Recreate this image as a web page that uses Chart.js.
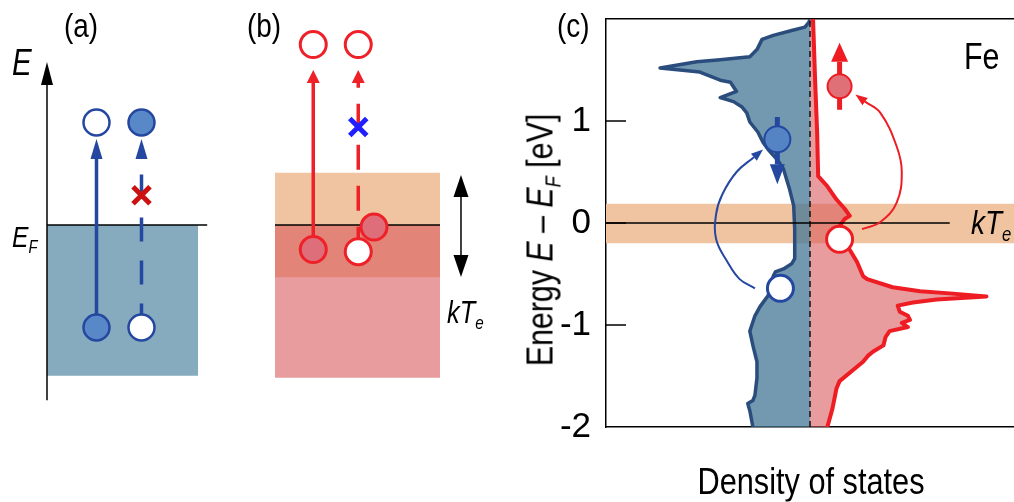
<!DOCTYPE html>
<html>
<head>
<meta charset="utf-8">
<script src="https://cdn.jsdelivr.net/npm/chart.js@4.4.1/dist/chart.umd.min.js"></script>
<style>
  body { margin: 0; background: #fff; }
  #figure { position: relative; width: 1014px; height: 502px; overflow: hidden;
    font-family: 'Liberation Sans', Arial, sans-serif; color: #000; }
  canvas { position: absolute; top: 0; }
  /* the original uses a condensed sans, so squeeze the text a little */
  .lbl { position: absolute; line-height: 1; white-space: nowrap;
    transform-origin: 0 50%; transform: translateY(-50%) scaleX(0.82); }
  .lbl sub { font-size: 0.6em; vertical-align: -0.35em; line-height: 0; }
  #ytitle { transform-origin: 50% 50%; transform: translate(-50%, -50%) rotate(-90deg) scaleX(0.82); }
  #xtitle { transform-origin: 50% 50%; transform: translate(-50%, -50%) scaleX(0.83); }
</style>
</head>
<body>
<div id="figure">
  <canvas id="panelA" width="240" height="502" style="left:0"></canvas>
  <canvas id="panelB" width="270" height="502" style="left:240px"></canvas>
  <canvas id="panelC" width="504" height="502" style="left:510px"></canvas>

  <div class="lbl" style="left:64px;top:25px;font-size:34px">(a)</div>
  <div class="lbl" style="left:247px;top:25px;font-size:34px">(b)</div>
  <div class="lbl" style="left:557px;top:25px;font-size:34px">(c)</div>
  <div class="lbl" style="left:12px;top:63px;font-size:36px"><i>E</i></div>
  <div class="lbl" style="left:12px;top:237px;font-size:30px"><i>E</i><sub><i>F</i></sub></div>
  <div class="lbl" style="left:447px;top:312px;font-size:31px"><i>kT</i><sub><i>e</i></sub></div>
  <div class="lbl" style="left:964px;top:56px;font-size:37px">Fe</div>
  <div class="lbl" style="left:971px;top:222px;font-size:34px"><i>kT</i><sub><i>e</i></sub></div>
  <div class="lbl" id="ytitle" style="left:540px;top:240px;font-size:37px">Energy <i>E</i> – <i>E</i><sub><i>F</i></sub> [eV]</div>
  <div class="lbl" id="xtitle" style="left:811px;top:481px;font-size:37px">Density of states</div>
</div>
<script>
// ---- panel (c): spin resolved DOS of Fe ----
// spin down, drawn to the left of zero
const dosDownE = [-2.00, -1.84, -1.77, -1.74, -1.69, -1.52, -1.36, -1.20, -1.06, -1.00, -0.91, -0.82, -0.71, -0.52, -0.48, -0.45, -0.40, -0.35, -0.06, 0.17, 0.33, 0.43, 0.53, 0.62, 0.72, 0.79, 0.89, 0.99, 1.08, 1.14, 1.19, 1.23, 1.29, 1.38, 1.40, 1.48, 1.52, 1.58, 1.60, 1.63, 1.70, 1.80, 1.84, 1.89, 1.92, 1.97, 2.00];
const dosDown = [-0.56, -0.59, -0.61, -0.56, -0.54, -0.52, -0.52, -0.56, -0.59, -0.57, -0.54, -0.49, -0.41, -0.36, -0.34, -0.26, -0.18, -0.15, -0.15, -0.16, -0.20, -0.23, -0.26, -0.32, -0.41, -0.46, -0.51, -0.59, -0.62, -0.67, -0.75, -0.88, -0.72, -0.78, -0.88, -1.08, -1.47, -1.11, -0.88, -0.59, -0.52, -0.47, -0.36, -0.17, -0.05, -0.01, 0];
// spin up, drawn to the right of zero
const dosUpE = [-2.00, -1.82, -1.62, -1.55, -1.36, -1.30, -1.26, -1.20, -1.12, -1.06, -1.02, -0.98, -0.95, -0.91, -0.87, -0.81, -0.78, -0.75, -0.72, -0.69, -0.67, -0.63, -0.55, -0.52, -0.38, -0.23, -0.03, 0.04, 0.07, 0.14, 0.23, 0.36, 0.46, 0.89, 1.40, 2.00];
const dosUp = [0.17, 0.22, 0.26, 0.29, 0.52, 0.57, 0.62, 0.72, 0.74, 0.78, 0.96, 0.90, 0.98, 0.96, 0.88, 0.86, 1.01, 1.24, 1.73, 1.37, 1.08, 0.81, 0.56, 0.52, 0.46, 0.37, 0.29, 0.34, 0.39, 0.34, 0.26, 0.17, 0.08, 0.07, 0.05, 0.03];
const energyTicks = [-2, -1, 0, 1, 2];
const kTeBand = [-0.2, 0.19];
const zeroLineEnd = 1.37;
// electrons / holes in (c): [dos, energy]
const spinDownElectron = [-0.32, 0.82];
const spinUpElectron = [0.29, 1.34];
const spinUpHole = [0.29, -0.16];
const spinDownHole = [-0.29, -0.64];
const spinDownArrowE = [1.04, 0.576];
const spinUpArrowE = [1.11, 1.58];
// excitation paths in (c)
const pathDownX = [-0.54, -0.69, -0.81, -0.92, -0.92, -0.86, -0.72, -0.55];
const pathDownE = [-0.64, -0.55, -0.38, -0.16, 0.09, 0.28, 0.50, 0.645];
const pathUpX = [0.51, 0.69, 0.85, 0.90, 0.85, 0.69, 0.54];
const pathUpE = [-0.06, 0.01, 0.20, 0.50, 0.75, 1.08, 1.19];

// ---- panel (a): schematic, energy in the same units ----
const columnsA = [1.1, 2.1];      // allowed (solid) / blocked (dashed) transition
const levelsA = [1, -1];          // final / initial level
const arrowTopA = 0.644;
const crossA = 0.29;
const bandA = [3.36, -1.47];      // right edge, bottom of occupied band
const fermiEndA = 3.56;
const energyAxisA = [-1.71, 1.366];

// ---- panel (b) ----
const columnsB = [0.85, 1.85];
const upperB = 1.76;
const lowerB = [-0.24, -0.26];
const excitedB = [2.2, -0.02];
const arrowTopB = 1.385;
const crossB = 0.956;
const widthB = 3.667;
const smearB = [-0.51, 0.51];
const occupiedBottomB = -1.49;
const kTeArrowB = [4.133, -0.293, 0.273];

Chart.defaults.font.family = "'Liberation Sans', Arial, sans-serif";
Chart.defaults.color = '#000';

const pts = (xs, ys) => xs.map((x, i) => ({x: x, y: ys[i]}));

// draws a filled arrow head beyond the last (and optionally first) point
const arrowHeads = {
  id: 'arrowHeads',
  afterDatasetDraw(chart, args) {
    const ds = chart.data.datasets[args.index];
    const head = ds.arrowHead;
    if (!head) return;
    const p = args.meta.data;
    const ctx = chart.ctx;
    const draw = (end, from) => {
      const a = Math.atan2(end.y - from.y, end.x - from.x);
      ctx.save();
      ctx.translate(end.x, end.y);
      ctx.rotate(a);
      ctx.beginPath();
      ctx.moveTo(head.length, 0);
      ctx.lineTo(0, head.width / 2);
      ctx.lineTo(0, -head.width / 2);
      ctx.closePath();
      ctx.fillStyle = ds.borderColor;
      ctx.fill();
      ctx.restore();
    };
    const last = p[p.length - 1];
    draw(last, ds.tension ? {x: last.cp1x, y: last.cp1y} : p[p.length - 2]);
    if (head.both) draw(p[0], p[1]);
  }
};

// short tick marks drawn inside the frame
const innerTicks = {
  id: 'innerTicks',
  afterDatasetsDraw(chart) {
    const y = chart.scales.y, area = chart.chartArea, ctx = chart.ctx;
    ctx.save();
    ctx.strokeStyle = '#000';
    ctx.lineWidth = 1.5;
    y.ticks.forEach(t => {
      if (t.value <= y.min || t.value >= y.max) return;
      const py = y.getPixelForValue(t.value);
      ctx.beginPath();
      ctx.moveTo(area.left, py);
      ctx.lineTo(area.left + 20, py);
      ctx.stroke();
    });
    ctx.restore();
  }
};

function seg(data, color, width, extra) {
  return Object.assign({type: 'line', data: data, borderColor: color, borderWidth: width,
    pointRadius: 0, fill: false, clip: false}, extra);
}
function dots(data, fill, stroke, r, bw, extra) {
  return Object.assign({type: 'line', data: data, showLine: false, pointRadius: r,
    pointBackgroundColor: fill, pointBorderColor: stroke, pointBorderWidth: bw, clip: false, order: 0}, extra);
}
const baseOptions = {
  responsive: false, animation: false, events: [],
  plugins: {legend: {display: false}, tooltip: {enabled: false}}
};
function schematicOptions(xmin, xmax) {
  return Object.assign({}, baseOptions, {
    layout: {padding: 0, autoPadding: false},
    scales: {
      x: {type: 'linear', display: false, min: xmin, max: xmax},
      y: {type: 'linear', display: false, min: -2.702, max: 2.195}
    }
  });
}

// ---------- (a) ----------
const blueA = '#2447a0';
new Chart(document.getElementById('panelA'), {
  type: 'line',
  data: {datasets: [
    dots([{x: columnsA[1], y: levelsA[0]}, {x: columnsA[0], y: levelsA[1]}], '#5888c8', blueA, 13, 2.5),
    dots([{x: columnsA[0], y: levelsA[0]}, {x: columnsA[1], y: levelsA[1]}], '#ffffff', blueA, 13, 2.5),
    dots([{x: columnsA[1], y: crossA}], '#cc1111', '#cc1111', 12, 5, {pointStyle: 'crossRot', order: 1}),
    seg([{x: columnsA[0], y: levelsA[1]}, {x: columnsA[0], y: arrowTopA}], blueA, 3.5,
      {order: 2, arrowHead: {length: 20, width: 12}}),
    seg([{x: columnsA[1], y: levelsA[1]}, {x: columnsA[1], y: arrowTopA}], blueA, 3.5,
      {order: 2, borderDash: [24, 19], arrowHead: {length: 20, width: 12}}),
    seg([{x: 0, y: energyAxisA[0]}, {x: 0, y: energyAxisA[1]}], '#000', 1.5,
      {order: 3, arrowHead: {length: 23, width: 12}}),
    seg([{x: 0, y: 0}, {x: fermiEndA, y: 0}], '#000', 1.5, {order: 4}),
    seg([{x: 0, y: 0}, {x: bandA[0], y: 0}], 'rgba(0,0,0,0)', 0,
      {order: 5, fill: {value: bandA[1]}, backgroundColor: '#86abbf'})
  ]},
  options: schematicOptions(-1.0444, 4.2889),
  plugins: [arrowHeads]
});

// ---------- (b) ----------
const redB = '#ee2028';
new Chart(document.getElementById('panelB'), {
  type: 'line',
  data: {datasets: [
    dots([{x: excitedB[0], y: excitedB[1]}], '#de6f7a', redB, 13, 3),
    dots([{x: columnsB[0], y: lowerB[0]}], '#de6f7a', redB, 13, 3, {order: 0.5}),
    dots([{x: columnsB[0], y: upperB}, {x: columnsB[1], y: upperB}, {x: columnsB[1], y: lowerB[1]}],
      '#ffffff', redB, 13, 3, {order: 0.5}),
    dots([{x: columnsB[1], y: crossB}], '#1f1fff', '#1f1fff', 12, 5, {pointStyle: 'crossRot', order: 1}),
    seg([{x: columnsB[0], y: lowerB[0]}, {x: columnsB[0], y: arrowTopB}], redB, 3.5,
      {order: 2, arrowHead: {length: 13, width: 13}}),
    seg([{x: columnsB[1], y: lowerB[1]}, {x: columnsB[1], y: arrowTopB}], redB, 3.5,
      {order: 2, borderDash: [25, 16], arrowHead: {length: 13, width: 13}}),
    seg([{x: kTeArrowB[0], y: kTeArrowB[1]}, {x: kTeArrowB[0], y: kTeArrowB[2]}], '#000', 1.5,
      {order: 3, arrowHead: {length: 22, width: 15, both: true}}),
    seg([{x: 0, y: 0}, {x: widthB, y: 0}], '#000', 1.5, {order: 4}),
    seg([{x: 0, y: 0}, {x: widthB, y: 0}], 'rgba(0,0,0,0)', 0,
      {order: 5, fill: {value: occupiedBottomB}, backgroundColor: 'rgba(217,90,93,0.6)'}),
    seg([{x: 0, y: smearB[1]}, {x: widthB, y: smearB[1]}], 'rgba(0,0,0,0)', 0,
      {order: 6, fill: {value: smearB[0]}, backgroundColor: '#f0c4a0'})
  ]},
  options: schematicOptions(-0.7778, 5.2222),
  plugins: [arrowHeads]
});

// ---------- (c) ----------
const blueC = '#2447a0', redC = '#ee1d24';
new Chart(document.getElementById('panelC'), {
  type: 'line',
  data: {datasets: [
    dots([{x: spinDownElectron[0], y: spinDownElectron[1]}], '#5484c4', blueC, 13, 2),
    dots([{x: spinUpElectron[0], y: spinUpElectron[1]}], '#e07078', redC, 12, 2),
    dots([{x: spinUpHole[0], y: spinUpHole[1]}], '#ffffff', redC, 13, 3),
    dots([{x: spinDownHole[0], y: spinDownHole[1]}], '#ffffff', blueC, 13, 3),
    seg([{x: spinDownElectron[0], y: spinDownArrowE[0]}, {x: spinDownElectron[0], y: spinDownArrowE[1]}],
      blueC, 5, {order: 1, arrowHead: {length: 20, width: 15}}),
    seg([{x: spinUpElectron[0], y: spinUpArrowE[0]}, {x: spinUpElectron[0], y: spinUpArrowE[1]}],
      redC, 5, {order: 1, arrowHead: {length: 19, width: 17}}),
    seg(pts(pathDownX, pathDownE), blueC, 2, {order: 2, tension: 0.4, arrowHead: {length: 12, width: 9}}),
    seg(pts(pathUpX, pathUpE), redC, 2, {order: 2, tension: 0.4, arrowHead: {length: 12, width: 9}}),
    seg([{x: -2, y: 0}, {x: zeroLineEnd, y: 0}], '#000', 1.5, {order: 3}),
    seg([{x: 0, y: -2}, {x: 0, y: 2}], '#111', 1.5, {order: 4, borderDash: [6, 4]}),
    seg(pts(dosUp, dosUpE), redC, 4, {order: 5, fill: 'origin', clip: undefined,
      backgroundColor: 'rgba(217,90,93,0.6)', borderJoinStyle: 'round'}),
    seg(pts(dosDown, dosDownE), '#2b4d7d', 3.5, {order: 6, fill: 'origin', clip: undefined,
      backgroundColor: 'rgba(68,119,150,0.75)', borderJoinStyle: 'round'}),
    seg([{x: 2, y: kTeBand[0]}, {x: 2, y: kTeBand[1]}], 'rgba(0,0,0,0)', 0,
      {order: 7, fill: {value: -2}, backgroundColor: '#f0c4a0'})
  ]},
  options: Object.assign({}, baseOptions, {
    indexAxis: 'y',
    layout: {padding: {top: 19, left: 0, right: 0, bottom: 0}, autoPadding: false},
    scales: {
      x: {
        type: 'linear', position: 'bottom', min: -2, max: 2,
        ticks: {display: false}, grid: {display: false, drawTicks: false},
        border: {display: true, color: '#000', width: 1.5},
        afterFit(s) { s.height = 75; }
      },
      xTop: {
        type: 'linear', position: 'top', min: -2, max: 2,
        ticks: {display: false}, grid: {display: false, drawTicks: false},
        border: {display: true, color: '#000', width: 1.5},
        afterFit(s) { s.height = 0; }
      },
      y: {
        type: 'linear', position: 'left', min: -2, max: 2,
        afterBuildTicks(s) { s.ticks = energyTicks.map(v => ({value: v})); },
        ticks: {font: {size: 35}, padding: 15, callback: v => (v === 2 ? '' : String(v))},
        grid: {display: false, drawTicks: false},
        border: {display: true, color: '#000', width: 1.5},
        afterFit(s) { s.width = 96; s.paddingTop = 0; s.paddingBottom = 0; }
      }
    }
  }),
  plugins: [arrowHeads, innerTicks]
});
</script>
</body>
</html>
